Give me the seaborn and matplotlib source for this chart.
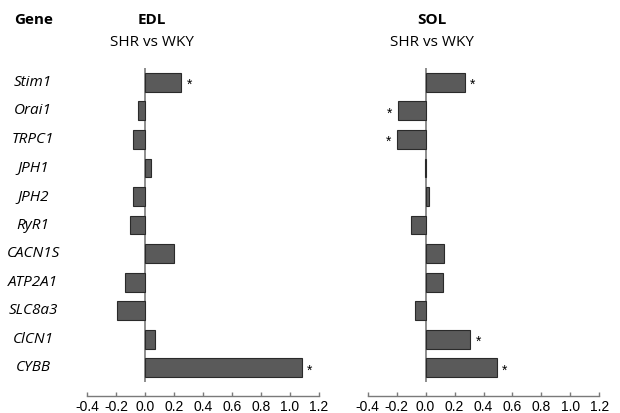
import pandas as pd
import matplotlib.pyplot as plt
import seaborn as sns

### Gene expression change, SHR vs WKY ###

genes = ['Stim1', 'Orai1', 'TRPC1', 'JPH1', 'JPH2', 'RyR1',
         'CACN1S', 'ATP2A1', 'SLC8a3', 'ClCN1', 'CYBB']
edl_values = [0.25, -0.05, -0.08, 0.04, -0.08, -0.10, 0.20, -0.14, -0.19, 0.07, 1.08]
sol_values = [0.27, -0.19, -0.20, -0.005, 0.02, -0.10, 0.13, 0.12, -0.07, 0.31, 0.49]
edl_signif = [True, False, False, False, False, False, False, False, False, False, True]
sol_signif = [True, True, True, False, False, False, False, False, False, True, True]
x_ticks = [-0.4, -0.2, 0.0, 0.2, 0.4, 0.6, 0.8, 1.0, 1.2]
x_ticklabels = ['-0.4', '-0.2', '0.0', '0.2', '0.4', '0.6', '0.8', '1.0', '1.2']

df = pd.DataFrame({'Gene': genes, 'EDL': edl_values, 'SOL': sol_values})

sns.set_style('white')
plt.rcParams['font.family'] = ['Liberation Sans', 'DejaVu Sans']
plt.rcParams['text.color'] = 'black'
plt.rcParams['xtick.labelcolor'] = 'black'

bar_color = '#5a5a5a'
edge_color = '#2a2a2a'
axis_color = '#7a7a7a'
label_font = 'Open Sans'

fig = plt.figure(figsize=(6.2, 4.13), dpi=100)
ax1 = fig.add_axes([0.1403, 0.075, 0.3742, 0.7603])
ax2 = fig.add_axes([0.5931, 0.075, 0.3735, 0.7603])

panels = [(ax1, 'EDL', edl_signif), (ax2, 'SOL', sol_signif)]

for ax, col, signif in panels:
    sns.barplot(data=df, x=col, y='Gene', orient='h', color=bar_color,
                edgecolor=edge_color, linewidth=0.8, width=0.66,
                saturation=1, ax=ax)
    ax.axvline(0, color=axis_color, linewidth=1.2, zorder=0)
    ax.set_xlim(-0.4, 1.2)
    ax.set_ylim(10.5, -0.5)
    ax.set_xticks(x_ticks)
    ax.set_xticklabels(x_ticklabels, fontsize=9.5, color='black')
    ax.set_xlabel('')
    ax.set_ylabel('')
    ax.set_yticks([])
    for s in ['top', 'right', 'left']:
        ax.spines[s].set_visible(False)
    ax.spines['bottom'].set_position(('outward', 10))
    ax.spines['bottom'].set_color(axis_color)
    ax.spines['bottom'].set_linewidth(1.0)
    ax.tick_params(axis='x', direction='in', length=3, color=axis_color,
                   width=1.0, pad=3, bottom=True)

    # significance stars #
    for i, (v, sig) in enumerate(zip(df[col], signif)):
        if sig:
            off = 4 if v >= 0 else -4
            ha = 'left' if v >= 0 else 'right'
            ax.annotate('*', xy=(v, i), xytext=(off, -2), textcoords='offset points',
                        ha=ha, va='center', fontsize=10, color='black')

# gene labels #
for i, g in enumerate(genes):
    y = ax1.transData.transform((0, i))[1]
    yf = fig.transFigure.inverted().transform((0, y))[1]
    fig.text(33 / 620, yf, g, ha='center', va='center', style='italic',
             fontsize=11, family=label_font, color='black')

# headers #
fig.text(34 / 620, 1 - 20 / 413, 'Gene', ha='center', va='center',
         fontweight='bold', fontsize=11, family=label_font)
for cx, name in [(152, 'EDL'), (432, 'SOL')]:
    fig.text(cx / 620, 1 - 20 / 413, name, ha='center', va='center',
             fontweight='bold', fontsize=11, family=label_font)
    fig.text(cx / 620, 1 - 42 / 413, 'SHR vs WKY', ha='center', va='center',
             fontsize=11, family=label_font)

plt.savefig('out.png', dpi=100)
